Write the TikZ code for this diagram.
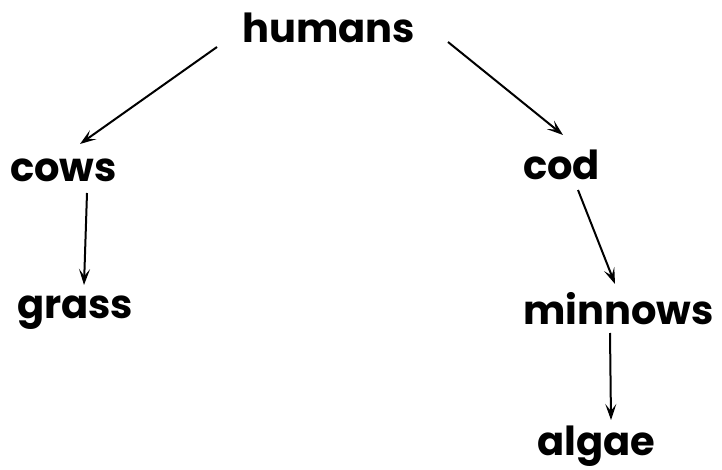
\documentclass[tikz,border=0pt]{standalone}
\usepackage{fontspec}
\setmainfont{Poppins}
\usetikzlibrary{arrows.meta, positioning, calc}

\begin{document}
\begin{tikzpicture}[x=1pt, y=-1pt,
	food/.style={anchor=base west, inner sep=0pt, font=\fontsize{40}{48}\selectfont\bfseries},
	eats/.style={-{Stealth[length=16pt, width=11pt, inset=7pt]}, line width=2pt}]
	\useasboundingbox (0,0) rectangle (722,470);
	
	\node[food] (humans) at (242,43) {humans};
	\node[food] (cows) at (10,182) {cows};
	\node[food] (grass) at (17,318) {grass};
	\node[food] (cod) at (523,180) {cod};
	\node[food] (minnows) at (523,324) {minnows};
	\node[food] (algae) at (537,455) {algae};
	
	\draw[eats] ([shift={(-25,4)}]humans.base west) -- ([shift={(70,-38)}]cows.base west);
	\draw[eats] ([shift={(206,-1)}]humans.base west) -- ([shift={(40,-45)}]cod.base west);
	\draw[eats] ([shift={(77,11)}]cows.base west) -- ([shift={(67,-33)}]grass.base west);
	\draw[eats] ([shift={(55,10)}]cod.base west) -- ([shift={(92,-40)}]minnows.base west);
	\draw[eats] ([shift={(87,9)}]minnows.base west) -- ([shift={(74,-35)}]algae.base west);
\end{tikzpicture}
\end{document}
